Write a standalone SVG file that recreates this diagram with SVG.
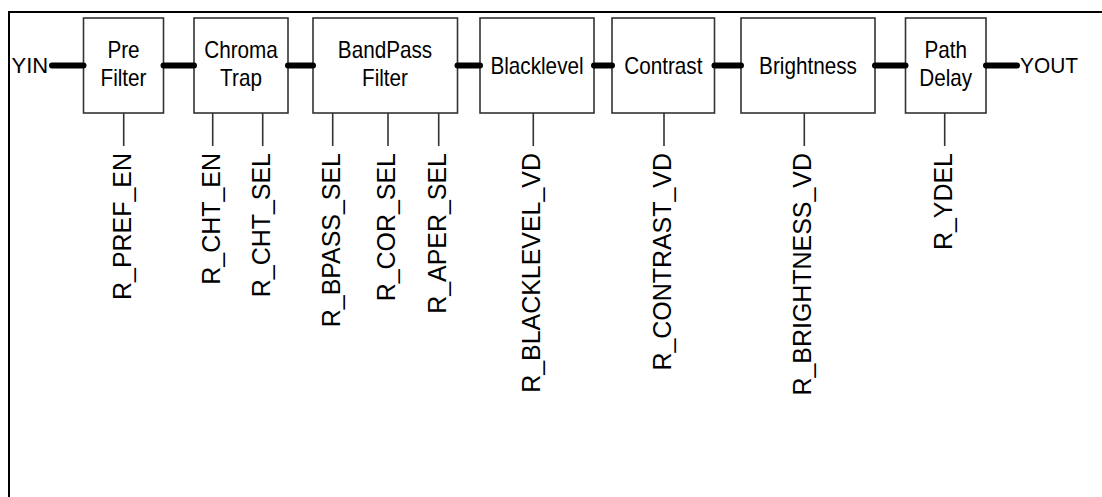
<svg xmlns="http://www.w3.org/2000/svg" width="1102" height="497" viewBox="0 0 1102 497">
<style>
.box{fill:#fff;stroke:#333;stroke-width:1.6}
.t{font-family:"Liberation Sans",Arial,sans-serif;font-size:23px;fill:#000;text-anchor:middle}
.io{font-family:"Liberation Sans",Arial,sans-serif;font-size:22px;fill:#000}
.lbl{font-family:"Liberation Sans",Arial,sans-serif;font-size:26px;fill:#000;text-anchor:end}
.bus{stroke:#000;stroke-width:6;stroke-linecap:round;fill:none}
.wire{stroke:#333;stroke-width:1.6;fill:none}
</style>
<rect x="0" y="0" width="1102" height="497" fill="#fff"/>
<path d="M9 497 V12 H1102" fill="none" stroke="#000" stroke-width="2"/>
<g id="yin"><text class="io" transform="translate(11.5,73)">YIN</text></g>
<g id="yout"><text class="io" transform="translate(1020,73) scale(0.95,1)">YOUT</text></g>
<g id="prefilter"><rect class="box" x="83.5" y="18" width="80" height="95"/><text class="t" transform="translate(123.5,58) scale(0.9,1)">Pre</text><text class="t" transform="translate(123.5,86) scale(0.9,1)">Filter</text></g>
<g id="chromatrap"><rect class="box" x="194" y="18" width="94" height="95"/><text class="t" transform="translate(241,58) scale(0.9,1)">Chroma</text><text class="t" transform="translate(241,86) scale(0.9,1)">Trap</text></g>
<g id="bandpass"><rect class="box" x="313" y="18" width="144.5" height="95"/><text class="t" transform="translate(385,58) scale(0.9,1)">BandPass</text><text class="t" transform="translate(385,86) scale(0.9,1)">Filter</text></g>
<g id="blacklevel"><rect class="box" x="480" y="18" width="114" height="95"/><text class="t" transform="translate(537,73.5) scale(0.9,1)">Blacklevel</text></g>
<g id="contrast"><rect class="box" x="612" y="18" width="102.5" height="95"/><text class="t" transform="translate(663.3,73.5) scale(0.9,1)">Contrast</text></g>
<g id="brightness"><rect class="box" x="741" y="18" width="134" height="95"/><text class="t" transform="translate(808,73.5) scale(0.9,1)">Brightness</text></g>
<g id="pathdelay"><rect class="box" x="905.5" y="18" width="80.5" height="95"/><text class="t" transform="translate(945.7,58) scale(0.9,1)">Path</text><text class="t" transform="translate(945.7,86) scale(0.9,1)">Delay</text></g>
<g id="connectors">
<path class="bus" d="M52 65.5H83.5M163.5 65.5H194M288 65.5H313M457.5 65.5H480M594 65.5H612M714.5 65.5H741M875 65.5H905.5M986 65.5H1017"/>
<path class="wire" d="M123.7 113V146M212.7 113V146M262.7 113V146M332.7 113V146M388 113V146M438.7 113V146M533.3 113V146M664 113V146M804.3 113V146M944.7 113V146"/>
</g>
<g id="labels">
<text class="lbl" transform="translate(130.5,153) rotate(-90) scale(0.96,1)">R_PREF_EN</text>
<text class="lbl" transform="translate(219.5,153) rotate(-90) scale(0.96,1)">R_CHT_EN</text>
<text class="lbl" transform="translate(269.5,153) rotate(-90) scale(0.96,1)">R_CHT_SEL</text>
<text class="lbl" transform="translate(339.5,153) rotate(-90) scale(0.96,1)">R_BPASS_SEL</text>
<text class="lbl" transform="translate(394.8,153) rotate(-90) scale(0.96,1)">R_COR_SEL</text>
<text class="lbl" transform="translate(445.5,153) rotate(-90) scale(0.96,1)">R_APER_SEL</text>
<text class="lbl" transform="translate(540.1,153) rotate(-90) scale(0.96,1)">R_BLACKLEVEL_VD</text>
<text class="lbl" transform="translate(670.8,153) rotate(-90) scale(0.96,1)">R_CONTRAST_VD</text>
<text class="lbl" transform="translate(811.1,153) rotate(-90) scale(0.96,1)">R_BRIGHTNESS_VD</text>
<text class="lbl" transform="translate(951.5,153) rotate(-90) scale(0.96,1)">R_YDEL</text>
</g>
</svg>
